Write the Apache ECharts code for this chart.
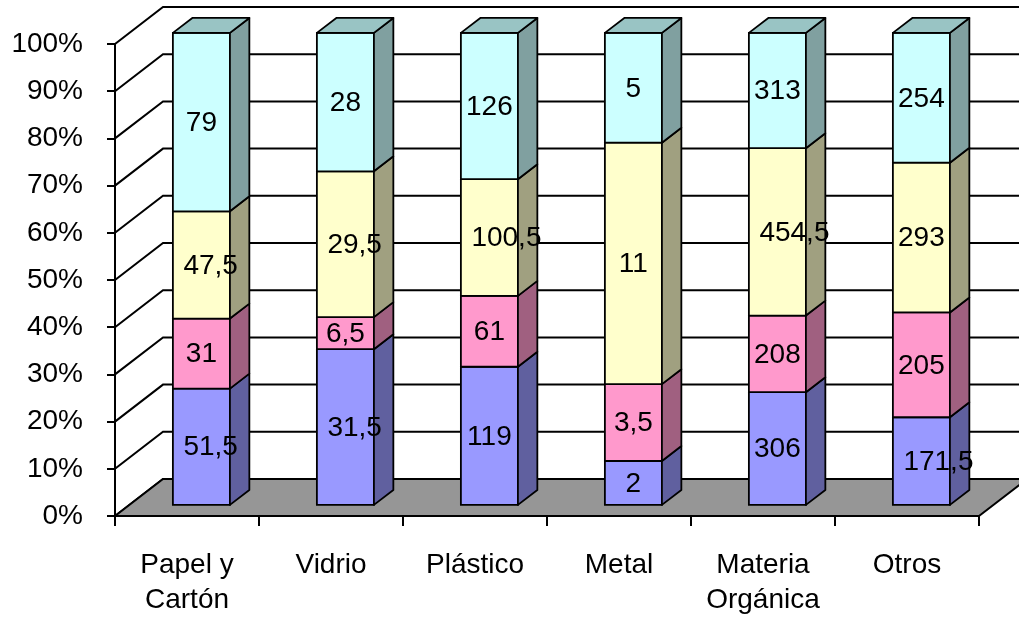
<!DOCTYPE html>
<html>
<head>
<meta charset="utf-8">
<script src="https://cdn.jsdelivr.net/npm/echarts@6/dist/echarts.min.js"></script>
<style>
html,body{margin:0;padding:0;background:#fff;}
#chart{width:1019px;height:618px;}
</style>
</head>
<body>
<div id="chart"></div>
<script>
// ---- data ----
const categories = ['Papel y\nCartón', 'Vidrio', 'Plástico', 'Metal', 'Materia\nOrgánica', 'Otros'];
const serie1 = [51.5, 31.5, 119, 2, 306, 171.5];
const serie2 = [31, 6.5, 61, 3.5, 208, 205];
const serie3 = [47.5, 29.5, 100.5, 11, 454.5, 293];
const serie4 = [79, 28, 126, 5, 313, 254];
const yTickValues = [0, 10, 20, 30, 40, 50, 60, 70, 80, 90, 100];

// ---- styles ----
const FONT = 'Liberation Sans, Arial, sans-serif';
const FS = 28;
const WALL_DX = 48, WALL_DY = 37;   // depth of the 3D box
const BAR_OFF = 0.30;               // bar front plane (fraction of depth)
const BAR_DEPTH = 0.405;            // bar depth (fraction of depth)
const BAR_W_FR = 0.396;             // bar width as fraction of category band
const LW = 2;
const BLW = 1.8;
const palette = [
  {front: '#9999FF', side: '#60609F', top: '#7A7ACC'},
  {front: '#FF99CC', side: '#A06080', top: '#CC7AA3'},
  {front: '#FFFFCC', side: '#A0A080', top: '#CCCCA3'},
  {front: '#CCFFFF', side: '#80A0A0', top: '#99C4C4'}
];

const seriesValues = [serie1, serie2, serie3, serie4];
const totals = categories.map((c, i) => seriesValues.reduce((s, arr) => s + arr[i], 0));
const stacks = [];
{
  const cum = categories.map(() => 0);
  seriesValues.forEach((arr) => {
    const rows = arr.map((v, i) => {
      const lo = cum[i];
      const hi = cum[i] + v / totals[i] * 100;
      cum[i] = hi;
      return [i, lo, hi, v];
    });
    stacks.push(rows);
  });
}

const measureCtx = document.createElement('canvas').getContext('2d');
measureCtx.font = FS + 'px ' + FONT;
function fmt(v) { return String(v).replace('.', ','); }

function barGeom(api, i, lo, hi) {
  const pLo = api.coord([i, lo]);
  const pHi = api.coord([i, hi]);
  const bw = api.size([1, 0])[0] * BAR_W_FR;
  const ox = WALL_DX * BAR_OFF, oy = WALL_DY * BAR_OFF;
  const x0 = pLo[0] + ox - bw / 2;
  const x1 = x0 + bw;
  const yb = pLo[1] - oy;
  const yt = pHi[1] - oy;
  return {x0, x1, yb, yt, dx: WALL_DX * BAR_DEPTH, dy: WALL_DY * BAR_DEPTH};
}

function makeBarSeries(k) {
  const col = palette[k];
  const isTop = k === seriesValues.length - 1;
  return {
    type: 'custom',
    coordinateSystem: 'cartesian2d',
    z: 3 + k * 0.01,
    silent: true,
    data: stacks[k],
    encode: {x: 0, y: [1, 2]},
    renderItem: function (params, api) {
      const g = barGeom(api, api.value(0), api.value(1), api.value(2));
      const children = [
        {type: 'rect', shape: {x: g.x0, y: g.yt, width: g.x1 - g.x0, height: g.yb - g.yt},
          style: {fill: col.front, stroke: '#000', lineWidth: BLW}},
        {type: 'polygon', shape: {points: [[g.x1, g.yb], [g.x1 + g.dx, g.yb - g.dy], [g.x1 + g.dx, g.yt - g.dy], [g.x1, g.yt]]},
          style: {fill: col.side, stroke: '#000', lineWidth: BLW, lineJoin: 'round'}}
      ];
      if (isTop) {
        children.push({type: 'polygon', shape: {points: [[g.x0, g.yt], [g.x1, g.yt], [g.x1 + g.dx, g.yt - g.dy], [g.x0 + g.dx, g.yt - g.dy]]},
          style: {fill: col.top, stroke: '#000', lineWidth: BLW, lineJoin: 'round'}});
      }
      return {type: 'group', children: children};
    }
  };
}

function makeLabelSeries(k) {
  return {
    type: 'custom',
    coordinateSystem: 'cartesian2d',
    z: 10,
    silent: true,
    data: stacks[k],
    encode: {x: 0, y: [1, 2]},
    renderItem: function (params, api) {
      const g = barGeom(api, api.value(0), api.value(1), api.value(2));
      const txt = fmt(api.value(3));
      const w = measureCtx.measureText(txt).width;
      const cx = (g.x0 + g.x1) / 2;
      const left = w <= 50 ? cx - w / 2 : cx - 18;
      return {
        type: 'text',
        style: {x: left, y: (g.yt + g.yb) / 2 + 1, text: txt, fill: '#000',
          font: FS + 'px ' + FONT, align: 'left', verticalAlign: 'middle'}
      };
    }
  };
}

const wallSeries = {
  type: 'custom',
  coordinateSystem: 'cartesian2d',
  z: 1,
  silent: true,
  data: [[0, 0]],
  renderItem: function (params, api) {
    const cs = params.coordSys;
    const xl = cs.x, xr = cs.x + cs.width;
    const children = [];
    yTickValues.forEach((v) => {
      const y = api.coord([0, v])[1];
      children.push({type: 'polyline', shape: {points: [[xl, y], [xl + WALL_DX, y - WALL_DY], [xr + WALL_DX + 10, y - WALL_DY]]},
        style: {stroke: '#000', lineWidth: LW, fill: null}});
    });
    const y0 = api.coord([0, 0])[1];
    children.push({type: 'polygon', shape: {points: [[xl, y0], [xl + WALL_DX, y0 - WALL_DY], [xr + WALL_DX, y0 - WALL_DY], [xr, y0]]},
      style: {fill: '#969696', stroke: '#000', lineWidth: LW, lineJoin: 'round'}});
    return {type: 'group', children: children};
  }
};

const series = [wallSeries];
for (let k = 0; k < seriesValues.length; k++) series.push(makeBarSeries(k));
for (let k = 0; k < seriesValues.length; k++) series.push(makeLabelSeries(k));

const chart = echarts.init(document.getElementById('chart'), null, {renderer: 'canvas'});
chart.setOption({
  animation: false,
  backgroundColor: '#fff',
  textStyle: {fontFamily: FONT},
  grid: {left: 115, right: 40, top: 44, bottom: 98, containLabel: false},
  xAxis: {
    type: 'category',
    data: categories,
    boundaryGap: true,
    axisLine: {show: true, lineStyle: {color: '#000', width: LW}},
    axisTick: {show: true, length: 10, lineStyle: {color: '#000', width: LW}},
    axisLabel: {color: '#000', fontSize: FS, fontFamily: FONT, lineHeight: 35, margin: 32, interval: 0},
    splitLine: {show: false},
    z: 5
  },
  yAxis: {
    type: 'value',
    min: 0, max: 100, interval: 10,
    axisLine: {show: true, lineStyle: {color: '#000', width: LW}},
    axisTick: {show: true, length: 8, lineStyle: {color: '#000', width: LW}},
    axisLabel: {color: '#000', fontSize: FS, fontFamily: FONT, margin: 32, formatter: '{value}%'},
    splitLine: {show: false},
    z: 5
  },
  series: series
});
</script>
</body>
</html>
